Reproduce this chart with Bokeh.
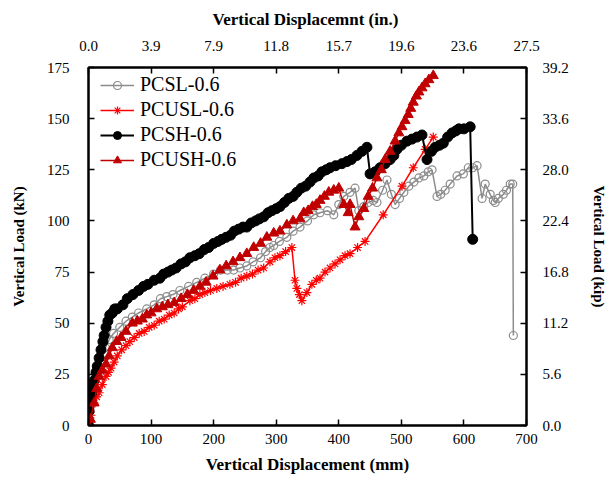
from bokeh.plotting import figure
from bokeh.models import LinearAxis, Range1d, FixedTicker, Legend, LegendItem
from bokeh.embed import file_html
from bokeh.resources import INLINE

# ---------------- data ----------------
pcsl_x = [0, 5, 10, 15, 20, 27, 33, 40, 50, 60, 70, 80, 93, 105, 115, 125, 135, 146, 160, 173,
          186, 200, 211, 222, 232, 242, 253, 263, 275, 283, 290, 296, 305, 317, 327, 338, 350, 360,
          370, 382, 392, 400, 408, 418, 426, 432, 440, 447, 455, 461, 470, 477, 484, 490, 497, 504,
          512, 520, 528, 536, 543, 549, 557, 563, 570, 578, 589, 599, 607, 614, 621, 629, 634, 642,
          647, 650, 655, 663, 668, 674, 678, 679]
pcsl_y = [0, 10, 18, 25, 32, 38, 42, 45, 48, 51, 53, 55, 57, 59, 62, 63, 64, 66, 68, 70,
          72, 74, 76, 76, 76, 77, 78, 80, 82, 85, 87, 88, 90, 92, 95, 97, 100, 103,
          104, 105, 103, 108, 112, 114, 116, 105, 107, 109, 110, 109, 115, 120, 113, 108, 111, 114,
          117, 119, 121, 122, 124, 125, 112, 113, 115, 118, 122, 123, 126, 126, 127, 111, 118, 113,
          110, 109, 111, 113, 115, 118, 118, 44]

pcusl_x = [0, 4, 9, 13, 17, 22, 28, 32, 36, 41, 46, 53, 60, 66, 73, 81, 89, 97, 105, 113, 121,
           129, 137, 144, 150, 162, 170, 178, 186, 195, 205, 215, 226, 235, 244, 253, 262, 271,
           280, 290, 298, 306, 315, 325, 330, 333, 337, 341, 349, 357, 364, 370, 378, 386, 394,
           402, 410, 418, 430, 442, 471, 501, 519, 538, 551]
pcusl_y = [0, 5, 11, 14, 16, 20, 24, 26, 28, 31, 34, 37, 39, 41, 43, 45, 46, 48, 49, 51, 52,
           54, 55, 57, 58, 61, 62, 64, 65, 66, 67, 68, 69, 70, 72, 73, 74, 76,
           77, 80, 82, 83, 85, 87, 71, 67, 64, 61, 65, 69, 71, 72, 75, 77, 79,
           81, 83, 84, 87, 90, 103, 117, 126, 135, 141]

pcsh_x = [0, 1, 3, 5, 7, 9, 12, 14, 17, 20, 23, 25, 28, 31, 34, 38, 42, 46, 55, 62, 71, 80, 88,
          95, 105, 114, 120, 127, 133, 140, 148, 155, 162, 170, 177, 185, 192, 200, 207, 213, 220,
          227, 233, 240, 247, 253, 260, 267, 273, 280, 287, 293, 300, 306, 313, 320, 327, 333, 340,
          347, 354, 360, 367, 373, 380, 386, 395, 405, 413, 420, 429, 437, 445, 450, 458, 466, 474,
          482, 488, 493, 500, 509, 517, 525, 533, 541, 548, 554, 561, 567, 574, 581, 587, 592, 600,
          610, 614]
pcsh_y = [0, 7, 12, 16, 19, 22, 26, 29, 33, 37, 41, 44, 48, 51, 54, 55, 57, 57, 59, 62, 64, 66, 68,
          69, 71, 72, 74, 75, 76, 77, 79, 80, 82, 83, 84, 86, 87, 89, 90, 91, 92,
          93, 95, 96, 97, 97, 99, 100, 101, 102, 104, 105, 106, 107, 109, 111, 112, 114, 116,
          117, 119, 121, 122, 124, 125, 126, 127, 128, 129, 130, 132, 134, 136, 123, 124, 126, 128,
          130, 132, 135, 137, 139, 140, 141, 142, 130, 134, 136, 137, 138, 141, 143, 144, 145, 145,
          146, 91]

pcush_x = [0, 3, 9, 13, 17, 22, 28, 33, 38, 45, 52, 60, 70, 78, 86, 93, 100, 109, 118, 127, 137,
           148, 158, 168, 178, 188, 199, 210, 220, 231, 242, 253, 264, 275, 285, 296, 306, 317,
           327, 338, 344, 351, 358, 364, 370, 377, 384, 392, 400, 408, 415, 418, 426, 432, 440,
           447, 454, 461, 468, 474, 482, 490, 496, 501, 506, 511, 515, 519, 524, 528, 533, 538,
           544, 551]
pcush_y = [0, 3, 11, 18, 24, 27, 30, 34, 38, 41, 43, 46, 50, 51, 52, 54, 55, 57, 58, 59, 60,
           62, 64, 66, 68, 70, 73, 76, 78, 80, 82, 84, 87, 89, 92, 94, 95, 98,
           100, 101, 104, 105, 107, 108, 110, 112, 114, 115, 116, 108, 104, 108, 97, 102, 106,
           112, 116, 121, 125, 130, 134, 139, 143, 146, 149, 152, 155, 158, 161, 163, 165, 167,
           169, 171]

mm_ticks = [0, 100, 200, 300, 400, 500, 600, 700]
in_labels = ["0.0", "3.9", "7.9", "11.8", "15.7", "19.6", "23.6", "27.5"]
kn_ticks = [0, 25, 50, 75, 100, 125, 150, 175]
kip_labels = ["0.0", "5.6", "11.2", "16.8", "22.4", "28.0", "33.6", "39.2"]

FONT = "Liberation Serif"

p = figure(x_range=Range1d(0, 700), y_range=Range1d(0, 175),
           frame_width=438, frame_height=358,
           min_border_left=88, min_border_right=80, min_border_top=67, min_border_bottom=56,
           output_backend="svg", toolbar_location=None, background_fill_color="white")
p.xgrid.visible = False
p.ygrid.visible = False
p.outline_line_color = "black"
p.outline_line_width = 2

bottom = p.below[0]
left = p.left[0]
top = LinearAxis()
p.add_layout(top, "above")
right = LinearAxis()
p.add_layout(right, "right")

for ax in [bottom, top]:
    ax.ticker = FixedTicker(ticks=mm_ticks)
for ax in [left, right]:
    ax.ticker = FixedTicker(ticks=kn_ticks)
top.major_label_overrides = {t: l for t, l in zip(mm_ticks, in_labels)}
right.major_label_overrides = {t: l for t, l in zip(kn_ticks, kip_labels)}

bottom.axis_label = "Vertical Displacement (mm)"
top.axis_label = "Vertical Displacemnt  (in.)"
left.axis_label = "Vertical Load (kN)"
right.axis_label = "Vertical Load (kip)"

for ax in [bottom, top, left, right]:
    ax.axis_line_color = "black"
    ax.axis_line_width = 2
    ax.major_tick_in = 6
    ax.major_tick_out = 0
    ax.major_tick_line_color = "black"
    ax.major_tick_line_width = 1.5
    ax.minor_tick_line_color = None
    ax.major_label_text_font = FONT
    ax.major_label_text_font_size = "15px"
    ax.major_label_text_color = "black"
    ax.axis_label_text_font = FONT
    ax.axis_label_text_font_size = "15px"
    ax.axis_label_text_font_style = "bold"
    ax.axis_label_text_color = "black"

bottom.axis_label_text_font_size = "17px"
top.axis_label_text_font_size = "17px"

left.major_label_standoff = 19
left.axis_label_standoff = 17
right.major_label_standoff = 16
right.axis_label_standoff = 19
bottom.major_label_standoff = 8
bottom.axis_label_standoff = 8
top.major_label_standoff = 17
top.axis_label_standoff = 9

gray = "#8c8c8c"
r1l = p.line(pcsl_x, pcsl_y, line_color=gray, line_width=1.5)
r1m = p.scatter(pcsl_x, pcsl_y, marker="circle", size=8, line_color=gray, line_width=1.2,
                fill_alpha=0)
r2l = p.line(pcusl_x, pcusl_y, line_color="#ff0000", line_width=1.5)
r2m = p.scatter(pcusl_x, pcusl_y, marker="asterisk", size=9, line_color="#ff0000", line_width=1.2)
r3l = p.line(pcsh_x, pcsh_y, line_color="black", line_width=2)
r3m = p.scatter(pcsh_x, pcsh_y, marker="circle", size=10, line_color="black", fill_color="black")
r4l = p.line(pcush_x, pcush_y, line_color="#c00000", line_width=1.5)
r4m = p.scatter(pcush_x, pcush_y, marker="triangle", size=10, line_color="#c00000",
                fill_color="#c00000")

legend = Legend(items=[
    LegendItem(label="PCSL-0.6", renderers=[r1l, r1m]),
    LegendItem(label="PCUSL-0.6", renderers=[r2l, r2m]),
    LegendItem(label="PCSH-0.6", renderers=[r3l, r3m]),
    LegendItem(label="PCUSH-0.6", renderers=[r4l, r4m]),
], location=(12, 254))
legend.label_text_font = FONT
legend.label_text_font_size = "20px"
legend.label_text_color = "black"
legend.border_line_color = None
legend.background_fill_alpha = 0
legend.padding = 3
legend.spacing = 2
legend.label_height = 20
legend.glyph_height = 20
legend.glyph_width = 34
legend.label_standoff = 6
p.add_layout(legend, "center")

open("out.html", "w").write(file_html(p, INLINE))
